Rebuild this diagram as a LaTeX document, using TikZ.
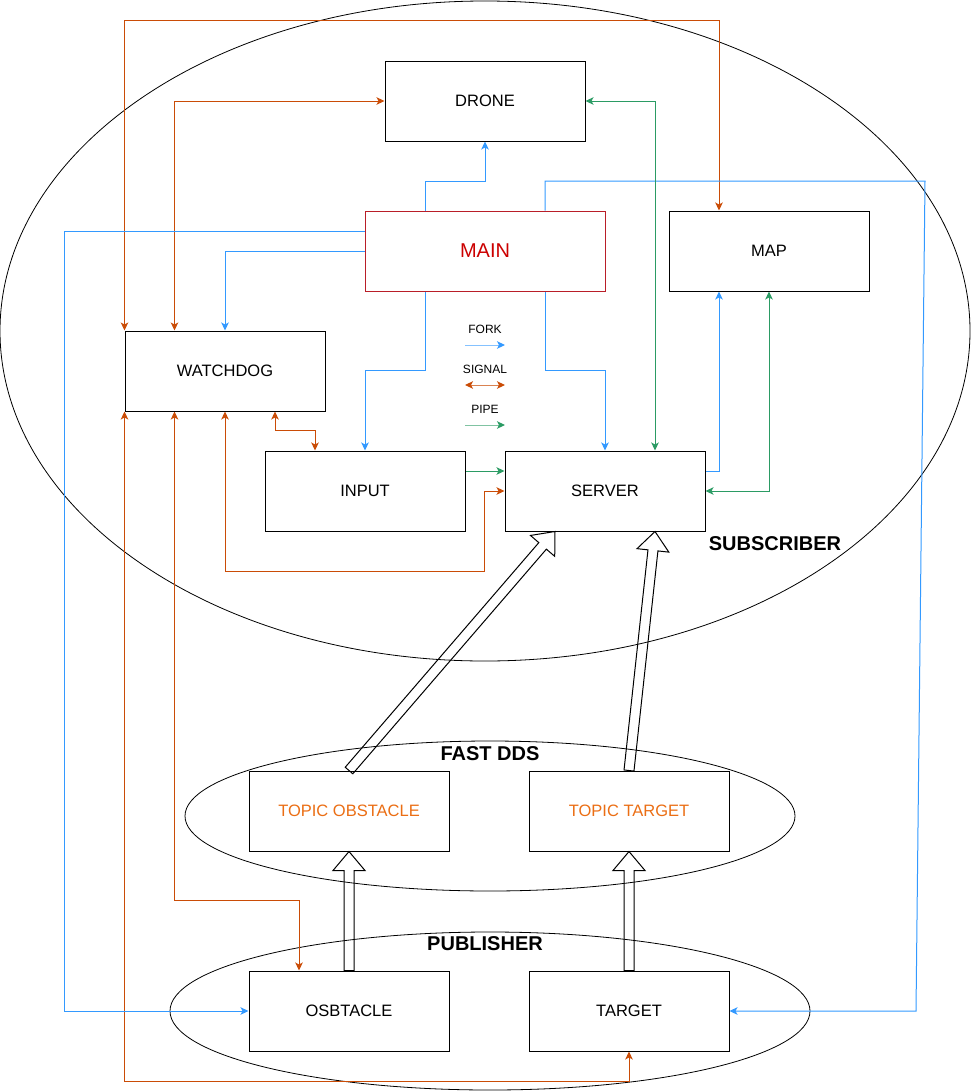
\documentclass[tikz,border=0pt]{standalone}
\usepackage{fontspec}
\setmainfont{Liberation Sans}
\usetikzlibrary{arrows.meta,calc}
\definecolor{forkc}{RGB}{51,153,255}
\definecolor{sigc}{RGB}{202,76,6}
\definecolor{pipec}{RGB}{43,155,100}
\definecolor{mainborder}{RGB}{185,30,40}
\definecolor{maintext}{RGB}{204,0,0}
\definecolor{topictext}{RGB}{235,110,20}
\newcommand\blockarrow[3]{%
  \coordinate (#1h) at ($(#3)!19pt!(#2)$);
  \draw[blockstyle] ($(#2)!5pt!90:(#3)$) -- ($(#1h)!5pt!90:(#3)$) -- ($(#1h)!16pt!90:(#3)$) -- (#3)
     -- ($(#1h)!16pt!-90:(#3)$) -- ($(#1h)!5pt!-90:(#3)$) -- ($(#2)!5pt!-90:(#3)$) -- cycle;
}
\begin{document}
\begin{tikzpicture}[x=1pt,y=-1pt,line width=1pt,
  >={Stealth[length=8pt,width=7.5pt,inset=2pt]},
  box/.style={draw=black,fill=white,minimum width=200pt,minimum height=80pt,inner sep=0pt,
    font=\fontsize{16.5}{19}\selectfont},
  mainbox/.style={box,minimum width=240pt,draw=mainborder,text=maintext,font=\fontsize{20}{24}\selectfont},
  fork/.style={draw=forkc,->},
  sig/.style={draw=sigc,<->},
  pipeone/.style={draw=pipec,->},
  pipetwo/.style={draw=pipec,<->},
  group/.style={draw=black,line width=0.8pt},
  grouplabel/.style={font=\bfseries\fontsize{20}{24}\selectfont,inner sep=0pt},
  legend/.style={font=\fontsize{12}{14}\selectfont,inner sep=0pt},
  blockstyle/.style={draw=black,line width=1pt,line join=miter}]
\useasboundingbox (0,0) rectangle (971,1092);

% group ellipses
\draw[group] (485,331) ellipse [x radius=485pt, y radius=330pt];
\draw[group] (490,816) ellipse [x radius=305pt, y radius=75pt];
\draw[group] (490,1011) ellipse [x radius=320pt, y radius=79pt];

% nodes (placed first so anchors exist; redrawn on top below)
\node[box] (drone) at (485,101) {DRONE};
\node[mainbox] (main) at (485,251) {MAIN};
\node[box] (map) at (769,251) {MAP};
\node[box] (wd) at (225,371) {WATCHDOG};
\node[box] (input) at (365,491) {INPUT};
\node[box] (server) at (605,491) {SERVER};
\node[box,text=topictext] (tobs) at (349,811) {TOPIC OBSTACLE};
\node[box,text=topictext] (ttar) at (629,811) {TOPIC TARGET};
\node[box] (obs) at (349,1011) {OSBTACLE};
\node[box] (tgt) at (629,1011) {TARGET};

\coordinate (rt1) at (925,181);
\coordinate (rt2) at (916,1011);

% signals
\draw[sig] (wd.north west) |- ([xshift=-50pt,yshift=190pt]map.north) -- ([xshift=-50pt]map.north);
\draw[sig] ([xshift=50pt]wd.north west) |- (drone.west);
\draw[sig] (wd.south) |- ([yshift=-40pt]input.south) -| ([xshift=-20pt]server.west) -- (server.west);
\draw[sig] ([xshift=50pt]wd.south) |- ([xshift=-50pt,yshift=20pt]input.north) -- ([xshift=-50pt]input.north);
\draw[sig] (wd.south west) |- ([yshift=-30pt]tgt.south) -- (tgt.south);
\draw[sig] ([xshift=50pt]wd.south west) |- ([xshift=-50pt,yshift=70pt]obs.north) -- ([xshift=-50pt]obs.north);

% forks
\draw[fork] (main.west) -| (wd.north);
\draw[fork] ([yshift=20pt]main.west) -| ([xshift=-184pt]obs.west) -- (obs.west);
\draw[fork] ([xshift=-60pt]main.north) |- ([yshift=-40pt]drone.south) -- (drone.south);
\draw[fork] ([xshift=60pt]main.north) |- (rt1) -- (rt2) -- (tgt.east);
\draw[fork] ([xshift=-60pt]main.south) |- ([yshift=80pt]input.north) -- (input.north);
\draw[fork] ([xshift=60pt]main.south) |- ([yshift=80pt]server.north) -- (server.north);
\draw[fork] ([yshift=20pt]server.east) -| ([xshift=-50pt]map.south);

% pipes
\draw[pipetwo] (drone.east) -| ([xshift=50pt]server.north);
\draw[pipetwo] (server.east) -| (map.south);
\draw[pipeone] ([yshift=20pt]input.east) -- ([yshift=20pt]server.west);

% boxes on top
\node[box] at (drone) {DRONE};
\node[mainbox] at (main) {MAIN};
\node[box] at (map) {MAP};
\node[box] at (wd) {WATCHDOG};
\node[box] at (input) {INPUT};
\node[box] at (server) {SERVER};
\node[box,text=topictext] at (tobs) {TOPIC OBSTACLE};
\node[box,text=topictext] at (ttar) {TOPIC TARGET};
\node[box] at (obs) {OSBTACLE};
\node[box] at (tgt) {TARGET};

% block arrows (data flow)
\coordinate (sq1) at ([xshift=-50pt]server.south);
\coordinate (sq3) at ([xshift=50pt]server.south);
\blockarrow{ba}{obs.north}{tobs.south}
\blockarrow{bb}{tgt.north}{ttar.south}
\blockarrow{bc}{tobs.north}{sq1}
\blockarrow{bd}{ttar.north}{sq3}

% group labels
\node[grouplabel] (lsub) at (775,544) {SUBSCRIBER};
\node[grouplabel] (lfast) at (490,754) {FAST DDS};
\node[grouplabel] (lpub) at (485,944) {PUBLISHER};

% legend
\node[legend] (lfork) at (485,329) {FORK};
\node[legend] (lsig) at (485,369) {SIGNAL};
\node[legend] (lpipe) at (485,409) {PIPE};
\coordinate (lf1) at (465,345); \coordinate (lf2) at (505,345);
\coordinate (ls1) at (465,385); \coordinate (ls2) at (505,385);
\coordinate (lp1) at (465,425); \coordinate (lp2) at (505,425);
\draw[draw=forkc!60,-{Stealth[length=8pt,width=7.5pt,inset=2pt,color=forkc]}] (lf1) -- (lf2);
\draw[draw=sigc!70,{Stealth[length=8pt,width=7.5pt,inset=2pt,color=sigc]}-{Stealth[length=8pt,width=7.5pt,inset=2pt,color=sigc]}] (ls1) -- (ls2);
\draw[draw=pipec!60,-{Stealth[length=8pt,width=7.5pt,inset=2pt,color=pipec]}] (lp1) -- (lp2);
\end{tikzpicture}
\end{document}
